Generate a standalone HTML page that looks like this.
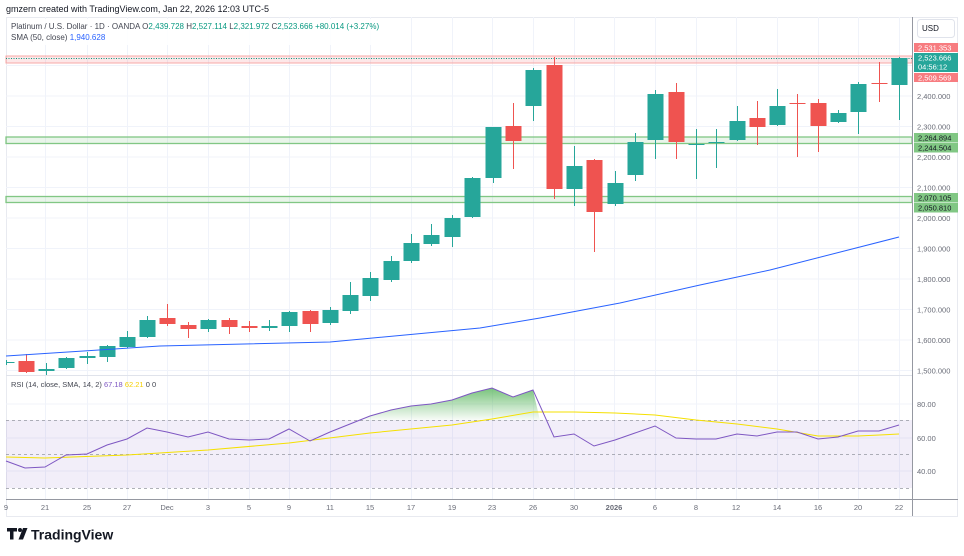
<!DOCTYPE html>
<html><head><meta charset="utf-8"><style>
body{margin:0;background:#fff;width:964px;height:556px;overflow:hidden;font-family:"Liberation Sans",sans-serif}
svg{position:absolute;left:0;top:0}
</style></head><body>
<svg id="s" width="964" height="556" xmlns="http://www.w3.org/2000/svg" font-family="Liberation Sans, sans-serif">
<defs>
<linearGradient id="g" x1="0" y1="0" x2="0" y2="1">
<stop offset="0" stop-color="#4caf50" stop-opacity="0.75"/><stop offset="1" stop-color="#4caf50" stop-opacity="0.03"/>
</linearGradient>
<clipPath id="cp"><rect x="6" y="17" width="906" height="482"/></clipPath>
</defs>
<text x="6" y="12" font-size="9" fill="#131722">gmzern created with TradingView.com, Jan 22, 2026 12:03 UTC-5</text>
<rect x="6.5" y="17.5" width="951" height="499" fill="none" stroke="#e8eaf0"/>
<g id="grid" stroke="#f0f3fa" stroke-width="1"></g>
<!-- RSI band -->
<rect x="6" y="420" width="906" height="68" fill="#7e57c2" fill-opacity="0.1"/>
<g stroke="#9598a1" stroke-dasharray="3,3" stroke-width="0.8">
<line x1="6" y1="420.5" x2="912" y2="420.5"/><line x1="6" y1="454.5" x2="912" y2="454.5"/><line x1="6" y1="488.5" x2="912" y2="488.5"/>
</g>
<!-- zones -->
<rect x="6" y="56" width="906" height="7" fill="#f23645" fill-opacity="0.12" stroke="#f7a9a7" stroke-width="1"/>
<line x1="6" y1="58.5" x2="912" y2="58.5" stroke="#089981" stroke-dasharray="1,1.5"/>
<rect x="6" y="137" width="906" height="6.5" fill="#4caf50" fill-opacity="0.12" stroke="#81c784" stroke-width="1.3"/>
<rect x="6" y="196.5" width="906" height="6" fill="#4caf50" fill-opacity="0.12" stroke="#81c784" stroke-width="1.3"/>
<g id="candles" clip-path="url(#cp)"></g>
<polyline clip-path="url(#cp)" fill="none" stroke="#2962ff" stroke-width="1" points="6,356 160,346 330,342 480,328 540,318 620,303 700,285 770,270 899,237"/>
<path id="gf" fill="url(#g)"/>
<polyline id="rsiS" fill="none" stroke="#f5e000" stroke-width="1"/>
<polyline id="rsi" fill="none" stroke="#7e57c2" stroke-width="1"/>
<line x1="6" y1="375.5" x2="912" y2="375.5" stroke="#e0e3eb"/>
<line x1="6" y1="499.5" x2="958" y2="499.5" stroke="#9598a1"/>
<line x1="912.5" y1="17" x2="912.5" y2="516" stroke="#9598a1"/>
<g id="plab" font-size="7.5" fill="#6a6d78"></g>
<g id="tlab" font-size="7.5" fill="#6a6d78" text-anchor="middle"></g>
<rect x="917.5" y="19.5" width="37" height="18" rx="3" fill="#fff" stroke="#e0e3eb"/>
<text x="922" y="31" font-size="8" fill="#131722">USD</text>
<rect x="914" y="43" width="44" height="9" fill="#f77c80"/><text x="918" y="50.5" font-size="7.5" fill="#fff">2,531.353</text>
<rect x="914" y="53" width="44" height="19" fill="#26a69a"/><text x="918" y="60.5" font-size="7.5" fill="#fff">2,523.666</text><text x="918" y="69.5" font-size="7.5" fill="#fff">04:56:12</text>
<rect x="914" y="73" width="44" height="9" fill="#f77c80"/><text x="918" y="80.5" font-size="7.5" fill="#fff">2,509.569</text>
<rect x="914" y="133" width="44" height="9.5" fill="#81c784"/><text x="918" y="140.5" font-size="7.5" fill="#131722">2,264.894</text>
<rect x="914" y="143" width="44" height="9.5" fill="#81c784"/><text x="918" y="150.5" font-size="7.5" fill="#131722">2,244.504</text>
<rect x="914" y="193" width="44" height="9.5" fill="#81c784"/><text x="918" y="200.5" font-size="7.5" fill="#131722">2,070.105</text>
<rect x="914" y="203" width="44" height="9.5" fill="#81c784"/><text x="918" y="210.5" font-size="7.5" fill="#131722">2,050.810</text>
<rect x="7" y="19" width="370" height="26" fill="#fff" fill-opacity="0.85"/>
<text x="11" y="29" font-size="8" fill="#434651">Platinum / U.S. Dollar · 1D · OANDA <tspan fill="#434651">O</tspan><tspan fill="#089981">2,439.728 </tspan><tspan fill="#434651"> H</tspan><tspan fill="#089981">2,527.114 </tspan><tspan fill="#434651"> L</tspan><tspan fill="#089981">2,321.972 </tspan><tspan fill="#434651"> C</tspan><tspan fill="#089981">2,523.666  +80.014 (+3.27%)</tspan></text>
<text x="11" y="40" font-size="8" fill="#434651">SMA (50, close) <tspan fill="#2962ff">1,940.628</tspan></text>
<text x="11" y="387" font-size="7.5" fill="#434651">RSI (14, close, SMA, 14, 2) <tspan fill="#7e57c2">67.18</tspan> <tspan fill="#f5d000">62.21</tspan> 0 0</text>
<g transform="translate(7,528)">
<path d="M0 0h10v3.5h-3.5v8h-3.5v-8h-3z" fill="#131722"/><circle cx="13" cy="2" r="2" fill="#131722"/><path d="M16 0h4.5l-4.5 11.5h-4.5z" fill="#131722"/>
<text x="24" y="11.5" font-size="14" font-weight="bold" fill="#131722">TradingView</text>
</g>
</svg>
<script>
var NS="http://www.w3.org/2000/svg";
function el(p,t,a,txt){var e=document.createElementNS(NS,t);for(var k in a)e.setAttribute(k,a[k]);if(txt!=null)e.textContent=txt;document.getElementById(p).appendChild(e);return e;}
var xs=[45,87,127,167,208,249,289,330,370,411,452,492,533,574,614,655,696,736,777,818,858,899];
var tl=["21","25","27","Dec","3","5","9","11","15","17","19","23","26","30","2026","6","8","12","14","16","20","22"];
el("tlab","text",{x:6,y:510},"9");
xs.forEach(function(x,i){el("grid","line",{x1:x+.5,y1:17,x2:x+.5,y2:499});el("tlab","text",{x:x,y:510,"font-weight":tl[i]=="2026"?"bold":"normal"},tl[i]);});
for(var p=1500;p<=2500;p+=100){var y=96+(2400-p)*0.305;el("grid","line",{x1:6,y1:y,x2:912,y2:y});if(p<=2400)el("plab","text",{x:917,y:y+3},(p+"").replace(/(\d)(\d{3})/,"$1,$2")+".000");}
el("grid","line",{x1:6,y1:404,x2:912,y2:404});el("grid","line",{x1:6,y1:438,x2:912,y2:438});el("grid","line",{x1:6,y1:471,x2:912,y2:471});
[["80.00",404],["60.00",438],["40.00",471]].forEach(function(a){el("plab","text",{x:917,y:a[1]+3},a[0]);});
// x, up?, bodyTop, bodyBot, hi, lo
var C=[[6,1,362,363,360,365],[26,0,361,372,354,373],[46,1,369,371,363,375],[66,1,358,368,357,369],[87,1,356,358,352,364],[107,1,346,357,345,362],[127,1,337,347,331,348],[147,1,320,337,316,338],[167,0,318,324,304,326],[188,0,325,329,322,338],[208,1,320,329,319,332],[229,0,320,327,318,334],[249,0,326,328,321,332],[269,1,326,328,320,331],[289,1,312,326,311,332],[310,0,311,324,310,332],[330,1,310,323,307,325],[350,1,295,311,282,314],[370,1,278,296,272,301],[391,1,261,280,256,282],[411,1,243,261,234,263],[431,1,235,244,224,246],[452,1,218,237,215,247],[472,1,178,217,177,218],[493,1,127,178,127,183],[513,0,126,141,103,169],[533,1,70,106,68,121],[554,0,65,189,57,199],[574,1,166,189,146,206],[594,0,160,212,159,252],[615,1,183,204,171,206],[635,1,142,175,133,181],[655,1,94,140,90,159],[676,0,92,142,83,159],[696,1,144,145,129,179],[716,1,142,143,129,168],[737,1,121,140,106,141],[757,0,118,127,101,145],[777,1,106,125,89,126],[797,0,103,104,94,157],[818,0,103,126,99,152],[838,1,113,122,110,123],[858,1,84,112,82,134],[879,0,83,84,62,102],[899,1,58,85,57,120]];
C.forEach(function(c){var col=c[1]?"#26a69a":"#ef5350";el("candles","line",{x1:c[0]+.5,y1:c[4],x2:c[0]+.5,y2:c[5],stroke:col,"stroke-width":1});el("candles","rect",{x:c[0]-7.5,y:c[2],width:16,height:Math.max(1,c[3]-c[2]),fill:col});});
var R=[[6,461],[25,468],[45,467],[66,455],[87,454],[107,445],[127,439],[147,428],[167,432],[188,437],[208,432],[229,439],[249,440],[269,439],[289,429],[310,441],[330,432],[350,424],[370,416],[391,410],[411,406],[431,404],[452,400],[472,393],[492,388],[513,397],[533,390],[554,437],[574,434],[594,446],[615,440],[635,433],[655,426],[676,438],[696,439],[716,439],[737,434],[757,436],[777,432],[797,432],[818,439],[838,437],[858,431],[879,431],[899,425]];
document.getElementById("rsi").setAttribute("points",R.map(function(p){return p.join(",")}).join(" "));
document.getElementById("rsiS").setAttribute("points","6,457 45,458 127,455 208,450 289,443 370,433 452,425 492,419 533,412 574,412 615,413 655,415 696,420 737,424 777,429 818,436 858,436 899,434");
var d="M360,420.5 L370,416 L391,410 L411,406 L431,404 L452,400 L472,393 L492,388 L513,397 L533,390 L540,420.5 Z";
document.getElementById("gf").setAttribute("d",d);
</script>
</body></html>
